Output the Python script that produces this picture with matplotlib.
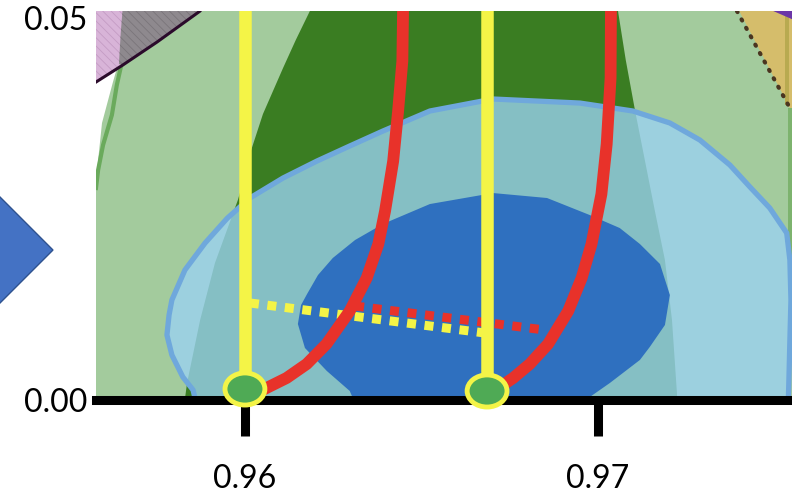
import matplotlib.pyplot as plt
from matplotlib.patches import Ellipse, Polygon

plt.rcParams['font.family'] = ['Lato', 'DejaVu Sans']

# axis ranges and ticks
x_range = (0.95578, 0.97550)
y_range = (0.0, 0.05092)
x_ticks = [0.96, 0.97]
x_tick_labels = ['0.96', '0.97']
y_ticks = [0.0, 0.05]
y_tick_labels = ['0.00', '0.05']

# wide light green contour
lg_x = [0.95654, 0.95654, 0.95640, 0.95626, 0.95595, 0.95584, 0.95578, 0.9557, 0.9557, 0.9760, 0.9760]
lg_y = [0.0515, 0.05092, 0.04385, 0.04162, 0.03626, 0.03141, 0.02788, 0.02788, -0.003, -0.003, 0.0515]

# its darker edge line on the left
lg_edge_x = [0.95703, 0.95680, 0.95654, 0.95637, 0.95623, 0.95598, 0.95584, 0.95578]
lg_edge_y = [0.05092, 0.04777, 0.04476, 0.04123, 0.03730, 0.03338, 0.03010, 0.02775]

# dark green band
dg_x = [0.96184, 0.96184, 0.96144, 0.96108, 0.96051, 0.96014, 0.96000, 0.95980, 0.95915, 0.95873,
        0.95836, 0.95822, 0.97227, 0.97224, 0.97210, 0.97190, 0.97161, 0.97133, 0.97105, 0.97079,
        0.97057, 0.97057]
dg_y = [0.0515, 0.05092, 0.04712, 0.04346, 0.03743, 0.03220, 0.02945, 0.02618, 0.01793, 0.01047,
        0.00223, -0.00262, -0.00262, 0.00092, 0.01047, 0.01832, 0.02487, 0.03141, 0.03796, 0.04450,
        0.05092, 0.0515]

# excluded region top left (pink) and its overlap (grey)
pink_x = [0.9557, 0.95873, 0.95873, 0.95751, 0.95654, 0.95578, 0.9557]
pink_y = [0.0515, 0.0515, 0.05092, 0.04686, 0.04385, 0.04162, 0.04162]
grey_x = [0.95654, 0.95873, 0.95873, 0.95751, 0.95654, 0.95643, 0.95648]
grey_y = [0.0515, 0.0515, 0.05092, 0.04686, 0.04385, 0.04398, 0.04800]
bound_x = [0.95880, 0.95873, 0.95751, 0.95654, 0.95578]
bound_y = [0.0515, 0.05092, 0.04686, 0.04385, 0.04162]

# top right corner
tan_x = [0.97394, 0.97394, 0.9760, 0.9760, 0.97544]
tan_y = [0.0515, 0.05092, 0.0515, 0.03822, 0.03822]
purple_x = [0.97470, 0.9760, 0.9760]
purple_y = [0.0515, 0.0515, 0.04880]
olive_x = [0.97530, 0.97541, 0.97541, 0.97530]
olive_y = [0.0515, 0.0515, 0.03861, 0.03861]
strip_x = [0.97538, 0.9760, 0.9760, 0.97538]
strip_y = [0.03822, 0.03822, 0.01700, 0.01700]
dotted_x = [0.97394, 0.97544]
dotted_y = [0.05092, 0.03822]

# light blue (2 sigma) contour
lb_x = [0.95873, 0.95853, 0.95824, 0.95793, 0.95779, 0.95785, 0.95793, 0.95830, 0.95887, 0.95950,
        0.96014, 0.96108, 0.96204, 0.96297, 0.96391, 0.96524, 0.96703, 0.96949, 0.97099, 0.97204,
        0.97289, 0.97374, 0.97431, 0.97487, 0.97535, 0.97544, 0.97547, 0.97544, 0.97541, 0.97538]
lb_y = [-0.00262, 0.00131, 0.00301, 0.00589, 0.00851, 0.01113, 0.01309, 0.01702, 0.02055, 0.02380,
        0.02644, 0.02906, 0.03128, 0.03325, 0.03521, 0.03783, 0.03940, 0.03887, 0.03783, 0.03626,
        0.03403, 0.03076, 0.02788, 0.02513, 0.02186, 0.01832, 0.01309, 0.00785, 0.00223, -0.00262]

# dark blue (1 sigma) contour
db_x = [0.96150, 0.96159, 0.96176, 0.96207, 0.96249, 0.96312, 0.96391, 0.96524, 0.96703, 0.96856,
        0.96977, 0.97062, 0.97119, 0.97176, 0.97204, 0.97190, 0.97147, 0.97119, 0.97034, 0.96969,
        0.96921, 0.96326, 0.96297, 0.96232, 0.96170]
db_y = [0.00995, 0.01243, 0.01387, 0.01636, 0.01859, 0.02094, 0.02304, 0.02565, 0.02709, 0.02644,
        0.02421, 0.02251, 0.02042, 0.01780, 0.01374, 0.00982, 0.00694, 0.00524, 0.00223, 0.00013,
        -0.00196, -0.00196, 0.00118, 0.00380, 0.00681]

# model tracks
red1_x = [0.96061, 0.96118, 0.96175, 0.96231, 0.96297, 0.96345, 0.96378, 0.96397, 0.96420, 0.96434,
          0.96446, 0.96448, 0.96448]
red1_y = [0.00157, 0.00288, 0.00471, 0.00733, 0.01165, 0.01597, 0.02042, 0.02474, 0.03128, 0.03783,
          0.04437, 0.05092, 0.0515]
red2_x = [0.96718, 0.96760, 0.96807, 0.96859, 0.96916, 0.96954, 0.96982, 0.97010, 0.97025, 0.97036,
          0.97037, 0.97037]
red2_y = [0.00157, 0.00288, 0.00471, 0.00733, 0.01165, 0.01597, 0.02042, 0.02696, 0.03351, 0.04215,
          0.05092, 0.0515]
yellow_x = [0.96, 0.96686]
point_y = [0.00144, 0.00118]
ydot_x = [0.96014, 0.96680]
ydot_y = [0.01270, 0.00877]
rdot_x = [0.96312, 0.96850]
rdot_y = [0.01230, 0.00916]

fig = plt.figure(figsize=(7.92, 4.95), dpi=100)
ax = fig.add_axes([96 / 792, 95 / 495, 696 / 792, 389 / 495])

ax.fill(lg_x, lg_y, color='#A3CB9D', lw=0, zorder=1)
ax.fill(dg_x, dg_y, color='#3A7D22', lw=0, zorder=2)
ax.plot(lg_edge_x, lg_edge_y, color='#6AAA5C', lw=3, zorder=2)

plt.rcParams['hatch.linewidth'] = 0.6
ax.fill(pink_x, pink_y, facecolor='#D8B4D8', edgecolor='#C49CC4', hatch='\\\\\\\\', lw=0, zorder=3)
ax.fill(grey_x, grey_y, facecolor='#8E898E', edgecolor='#7A757A', hatch='\\\\\\\\', lw=0, zorder=3)
ax.plot(bound_x, bound_y, color='#2B0B2B', lw=2.2, zorder=4)

ax.fill(tan_x, tan_y, color='#D5BD6B', lw=0, zorder=3)
ax.fill(olive_x, olive_y, color='#B8AA50', lw=0, zorder=3)
ax.fill(strip_x, strip_y, color='#7DB36E', lw=0, zorder=3)
ax.fill(purple_x, purple_y, color='#6B36A8', lw=0, zorder=3)
ax.plot(dotted_x, dotted_y, color='#4A3520', lw=3, linestyle=(0, (0.3, 2.0)),
        dash_capstyle='round', zorder=4)

ax.fill(lb_x, lb_y, facecolor='#9BD2F3', alpha=0.78, lw=0, zorder=5)
ax.plot(lb_x, lb_y, color='#6FA8DC', lw=3.8, zorder=5, solid_joinstyle='round')
ax.fill(db_x, db_y, color='#2F70BF', lw=0, zorder=6)

ax.plot(ydot_x, ydot_y, color='#F4F447', lw=6.5, linestyle=(0, (1.0, 0.95)), zorder=7)
ax.plot(rdot_x, rdot_y, color='#E8322A', lw=6.5, linestyle=(0, (1.0, 0.95)), zorder=7)
ax.plot(red1_x, red1_y, color='#E8322A', lw=8.5, solid_joinstyle='round', zorder=8)
ax.plot(red2_x, red2_y, color='#E8322A', lw=8.5, solid_joinstyle='round', zorder=8)
for xv, yv in zip(yellow_x, point_y):
    ax.plot([xv, xv], [yv, 0.0515], color='#F4F447', lw=9, zorder=9)
    ax.add_patch(Ellipse((xv, yv), 0.00113, 0.00420, facecolor='#4FAA55', edgecolor='#F4F447',
                         lw=3.5, zorder=12, clip_on=False))

ax.set_xlim(x_range)
ax.set_ylim(y_range)
for s in ['top', 'right', 'left']:
    ax.spines[s].set_visible(False)
ax.spines['bottom'].set_linewidth(6.5)
ax.spines['bottom'].set_zorder(10)
ax.set_xticks(x_ticks)
ax.set_xticklabels(x_tick_labels)
ax.set_yticks(y_ticks)
ax.set_yticklabels(y_tick_labels)
ax.tick_params(axis='x', length=26, width=6.5, pad=20, labelsize=23)
ax.tick_params(axis='y', length=0, pad=6, labelsize=23)

# arrow on the left
fig.patches.append(Polygon([(0.0669, 0.4949), (-0.0126, 0.6222), (-0.0126, 0.3677)],
                           closed=True, facecolor='#4472C4', edgecolor='#2F528F', lw=1,
                           transform=fig.transFigure, figure=fig))

fig.savefig('out.png', dpi=100)
